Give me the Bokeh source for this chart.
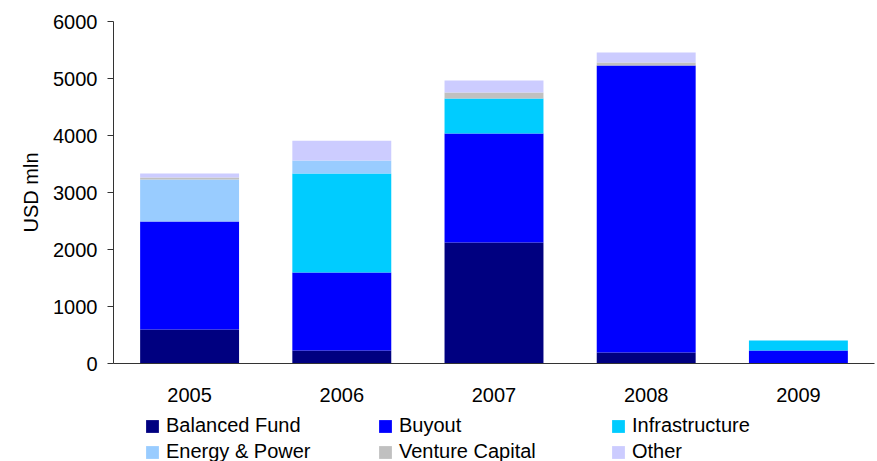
from bokeh.plotting import figure
from bokeh.layouts import column
from bokeh.models import ColumnDataSource, FactorRange, Legend, LegendItem, FixedTicker, Range1d, Title
from bokeh.embed import file_html
from bokeh.resources import INLINE

years = ["2005", "2006", "2007", "2008", "2009"]
balanced_fund = [596, 228, 2123, 193, 0]
buyout = [1895, 1368, 1912, 5035, 228]
infrastructure = [0, 1737, 614, 0, 176]
energy_power = [737, 228, 0, 0, 0]
venture_capital = [35, 0, 105, 53, 0]
other = [70, 349, 211, 175, 0]

series = ["Balanced Fund", "Buyout", "Infrastructure", "Energy & Power", "Venture Capital", "Other"]
keys = ["bf", "bo", "inf", "ep", "vc", "ot"]
colors = ["#000080", "#0000FF", "#00CCFF", "#99CCFF", "#C0C0C0", "#CCCCFF"]

source = ColumnDataSource(dict(years=years, bf=balanced_fund, bo=buyout, inf=infrastructure,
                               ep=energy_power, vc=venture_capital, ot=other))

FONT = "Liberation Sans"

p = figure(x_range=FactorRange(*years, range_padding=0), y_range=Range1d(0, 6000),
           width=877, height=412, output_backend="svg", toolbar_location=None,
           min_border_left=113, min_border_right=3, min_border_top=21, min_border_bottom=49)

p.vbar_stack(keys, x="years", width=0.65, color=colors, line_color=None, source=source)

p.xgrid.visible = False
p.ygrid.visible = False
p.outline_line_color = None
p.background_fill_color = "white"

p.yaxis.ticker = FixedTicker(ticks=[0, 1000, 2000, 3000, 4000, 5000, 6000])
p.yaxis.minor_tick_line_color = None
p.yaxis.major_tick_out = 6
p.yaxis.major_tick_in = 0
p.yaxis.major_label_standoff = 10

for ax in (p.xaxis, p.yaxis):
    ax.axis_line_color = "#333333"
    ax.major_tick_line_color = "#333333"
    ax.major_label_text_font = FONT
    ax.major_label_text_font_size = "20px"
    ax.major_label_text_color = "black"

p.xaxis.major_tick_line_color = None
p.xaxis.major_tick_out = 0
p.xaxis.major_label_standoff = 24

# y-axis title, drawn as a side title left of the tick labels
p.add_layout(Title(text="USD mln", align="center", text_font=FONT, text_font_size="20px",
                   text_font_style="normal", text_color="black", standoff=17), "left")

# legend strip below the chart (its frame is aligned with the chart's frame)
leg = figure(width=877, height=49, output_backend="svg", toolbar_location=None,
             x_axis_location=None, y_axis_location=None, min_border=0,
             x_range=Range1d(0, 1), y_range=Range1d(0, 1))
leg.xgrid.visible = False
leg.ygrid.visible = False
leg.outline_line_color = None

nan = float("nan")
dummy = [leg.vbar(x=[nan], top=[nan], width=1, fill_color=c, line_color=None) for c in colors]
items = [LegendItem(label=s, renderers=[r]) for s, r in zip(series, dummy)]

def make_legend(its, y):
    return Legend(items=its, orientation="horizontal", location=(31, y),
                  label_text_font=FONT, label_text_font_size="20px", label_text_color="black",
                  label_standoff=6, glyph_width=16, glyph_height=16,
                  label_width=207, label_height=13, spacing=4, padding=0, margin=0,
                  border_line_color=None, background_fill_alpha=0)

leg.add_layout(make_legend(items[:3], 24))
leg.add_layout(make_legend(items[3:], -2))

layout = column(p, leg, spacing=0)
open("out.html", "w").write(file_html(layout, INLINE))
